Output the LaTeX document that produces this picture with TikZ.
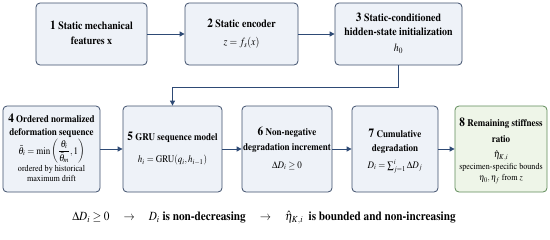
\documentclass[tikz,border=0pt]{standalone}
\usepackage{amsmath}
\usepackage{graphicx}
\usepackage[T1]{fontenc}
\usepackage{mathptmx}
\usetikzlibrary{arrows.meta}
\definecolor{boxfill}{HTML}{EEF2F8}
\definecolor{boxdraw}{HTML}{3E4F6B}
\definecolor{gfill}{HTML}{EEF5E8}
\definecolor{gdraw}{HTML}{5E8A58}
\definecolor{arr}{HTML}{2E4A75}
\tikzset{
  stepbox/.style={draw=boxdraw, fill=boxfill, line width=0.8pt, rounded corners=4pt,
    align=center, inner sep=1pt},
  toprow/.style={stepbox, minimum height=62pt, font=\fontsize{11}{13.5}\selectfont\bfseries},
  lowrow/.style={stepbox, minimum height=86pt, font=\fontsize{10}{14}\selectfont\bfseries},
  greenbox/.style={lowrow, draw=gdraw, fill=gfill},
  flow/.style={draw=arr, line width=0.9pt, -{Triangle[length=5pt,width=5pt]}},
}
\newcommand{\bx}[1]{\scalebox{0.9}[1]{\begin{tabular}{@{}c@{}}#1\end{tabular}}}
\newcommand{\num}[1]{{\fontsize{12.5}{12.5}\selectfont #1}\ }
\newcommand{\smalltxt}[1]{{\fontsize{9}{10}\selectfont\mdseries #1}}
\begin{document}
\begin{tikzpicture}[x=1pt,y=-1pt]
\useasboundingbox (0,0) rectangle (550,239);
\node[toprow, minimum width=111pt] (b1) at (91.5,34)
  {\bx{\num{1}Static mechanical\\[1.5pt] features x}};
\node[toprow, minimum width=113pt] (b2) at (241.5,34)
  {\bx{\num{2}Static encoder\\[4pt] \mdseries $z = f_s(x)$}};
\node[toprow, minimum width=127pt] (b3) at (398.5,34)
  {\bx{\num{3}Static-conditioned\\hidden-state initialization\\[2.5pt] \mdseries $h_0$}};
\node[lowrow, minimum width=97pt] (b4) at (51.5,149)
  {\bx{\num{4}Ordered normalized\\[-1pt] deformation sequence\\
   \mdseries $\bar{\theta}_i = \min\left(\dfrac{\theta_i}{\bar{\theta}_m},1\right)$\\[-2pt]
   \smalltxt{ordered by historical}\\[-4pt] \smalltxt{maximum drift}}};
\node[lowrow, minimum width=99pt] (b5) at (172.5,149)
  {\bx{\num{5}GRU sequence model\\[8pt] \mdseries $h_i = \mathrm{GRU}(q_i, h_{i-1})$}};
\node[lowrow, minimum width=90pt] (b6) at (287,149)
  {\bx{\num{6}Non-negative\\[1pt] degradation increment\\[4pt] \mdseries $\Delta D_i \geq 0$}};
\node[lowrow, minimum width=86pt] (b7) at (395,149)
  {\bx{\rule{0pt}{12pt}\num{7}Cumulative\\ degradation\\[3pt] \mdseries $D_i = \sum_{j=1}^{i} \Delta D_j$}};
\node[greenbox, minimum width=92pt] (b8) at (501,149)
  {\bx{\rule{0pt}{14pt}\num{8}Remaining stiffness\\[2pt] ratio\\[1pt] \mdseries $\hat{\eta}_{K,i}$\\[-2pt]
   \smalltxt{specimen-specific bounds}\\[-3pt] \smalltxt{$\eta_0, \eta_f$ from $z$}}};
\draw[flow] (b1) -- (b2);
\draw[flow] (b2) -- (b3);
\coordinate (t1) at (398.5,87);
\coordinate (t2) at (172.5,87);
\draw[flow] (b3.south) -- (t1) -- (t2) -- (b5.north);
\draw[flow] (b4) -- (b5);
\draw[flow] (b5) -- (b6);
\draw[flow] (b6) -- (b7);
\draw[flow] (b7) -- (b8);
\node[font=\fontsize{12.5}{14}\selectfont\bfseries, inner sep=1pt] (summary) at (264,218)
  {\scalebox{0.9}[1]{$\Delta D_i \geq 0$ \quad $\rightarrow$ \quad $D_i$ is non-decreasing \quad $\rightarrow$ \quad $\hat{\eta}_{K,i}$\ \ is bounded and non-increasing}};
\end{tikzpicture}
\end{document}
